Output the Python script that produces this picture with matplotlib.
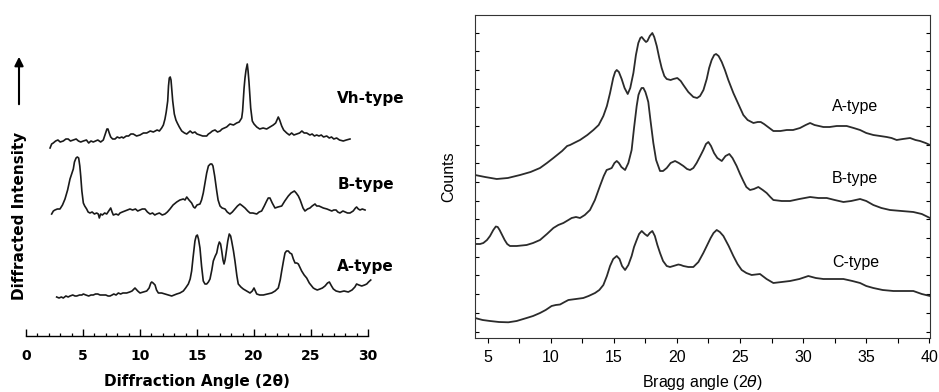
import numpy as np
import matplotlib
matplotlib.use("Agg")
import matplotlib.pyplot as plt

# ---- left panel: older diffractograms (2theta, relative intensity) ----
vh_x = [2.11, 2.25, 2.39, 2.6, 2.8, 3.0, 3.27, 3.5, 3.7, 3.9, 4.15, 4.4, 4.6, 4.8, 5.03, 5.3, 5.5,
        5.7, 5.9, 6.1, 6.3, 6.55, 6.78, 6.9, 6.99, 7.1, 7.19, 7.3, 7.43, 7.6, 7.81, 8.0, 8.2, 8.4,
        8.54, 8.8, 9.0, 9.2, 9.41, 9.7, 10.0, 10.3, 10.59, 10.9, 11.17, 11.5, 11.7, 11.9, 12.05,
        12.19, 12.3, 12.43, 12.5, 12.57, 12.65, 12.72, 12.8, 12.87, 13.01, 13.15, 13.27, 13.45,
        13.66, 13.9, 14.1, 14.4, 14.6, 14.82, 15.0, 15.26, 15.5, 15.85, 16.0, 16.14, 16.35, 16.58,
        16.8, 17.02, 17.2, 17.4, 17.6, 17.89, 18.2, 18.48, 18.7, 18.92, 19.0, 19.06, 19.13, 19.21,
        19.3, 19.41, 19.48, 19.56, 19.65, 19.71, 19.85, 20.0, 20.24, 20.5, 20.8, 21.11, 21.4,
        21.69, 21.9, 22.05, 22.13, 22.25, 22.43, 22.6, 22.87, 23.1, 23.3, 23.5, 23.75, 24.0, 24.2,
        24.4, 24.62, 24.9, 25.1, 25.3, 25.5, 25.7, 25.9, 26.1, 26.38, 26.6, 26.8, 27.0, 27.25,
        27.5, 27.83, 28.1, 28.42]
vh_y = [188, 192, 193, 195, 196, 194, 195, 197, 197, 195, 196, 197, 195, 194, 195, 196, 193,
        195, 194, 195, 196, 194, 196, 200, 203, 207, 207, 203, 199, 197, 197, 199, 198, 199,
        198, 200, 200, 202, 202, 200, 201, 203, 203, 205, 204, 206, 205, 208, 211,
        217, 224, 235, 250, 258, 259, 256, 245, 235, 222, 216, 213, 209,
        205, 203, 202, 205, 203, 204, 202, 201, 200, 200, 202, 203, 205, 206,
        204, 205, 207, 208, 209, 212, 211, 213, 214, 218, 225, 235, 248, 258,
        266, 272, 265, 254, 238, 228, 215, 212, 209, 207, 208, 207, 209,
        211, 213, 217, 219, 216, 210, 206, 203, 201, 203, 201, 202, 203, 205,
        203, 203, 201, 202, 200, 201, 200, 201, 199, 200, 198, 199, 197, 198,
        196, 195, 196, 197]

b_x = [2.25, 2.4, 2.54, 2.75, 2.98, 3.2, 3.42, 3.65, 3.86, 4.0, 4.15, 4.25, 4.39, 4.5, 4.62, 4.72,
       4.8, 4.9, 5.03, 5.15, 5.32, 5.45, 5.61, 5.8, 6.0, 6.2, 6.34, 6.43, 6.55, 6.7, 6.9, 7.08,
       7.25, 7.43, 7.55, 7.66, 7.9, 8.1, 8.25, 8.45, 8.68, 8.9, 9.12, 9.35, 9.6, 9.8, 10.0, 10.2,
       10.44, 10.65, 10.88, 11.1, 11.3, 11.46, 11.7, 11.95, 12.19, 12.4, 12.63, 12.9, 13.22,
       13.5, 13.8, 13.95, 14.1, 14.3, 14.53, 14.7, 14.82, 15.0, 15.26, 15.4, 15.55, 15.7, 15.85,
       16.0, 16.17, 16.3, 16.4, 16.55, 16.73, 16.85, 17.02, 17.2, 17.46, 17.65, 17.89, 18.1,
       18.33, 18.55, 18.77, 19.0, 19.21, 19.45, 19.65, 19.9, 20.24, 20.45, 20.67, 20.9, 21.11,
       21.25, 21.4, 21.6, 21.84, 22.1, 22.43, 22.7, 23.01, 23.25, 23.54, 23.7, 23.89, 24.05,
       24.18, 24.3, 24.47, 24.7, 24.91, 25.1, 25.35, 25.5, 25.7, 25.9, 26.08, 26.4, 26.6, 26.82,
       27.0, 27.2, 27.35, 27.54, 27.8, 28.0, 28.2, 28.42, 28.7, 28.9, 29.0, 29.15, 29.3, 29.5,
       29.74]
b_y = [122, 125, 126, 127, 127, 131, 137, 146, 157, 162, 167, 174, 178, 179, 178, 170,
       160, 145, 133, 130, 127, 124, 123, 124, 122, 123, 122, 118, 122, 121, 123, 122,
       125, 128, 124, 121, 122, 121, 123, 124, 125, 126, 127, 126, 127, 125, 126, 127,
       127, 124, 122, 123, 121, 122, 123, 121, 122, 124, 127, 131, 134,
       136, 137, 136, 139, 136, 133, 129, 128, 131, 132, 136, 143, 153, 163,
       170, 172, 172, 170, 160, 145, 136, 130, 128, 127, 124, 122, 124,
       127, 130, 132, 130, 128, 125, 123, 123, 122, 124, 125, 130, 135,
       138, 138, 133, 128, 129, 130, 135, 140, 143, 145, 143, 140, 136,
       132, 128, 125, 127, 128, 130, 132, 130, 130, 129, 128, 127, 126, 125,
       126, 126, 124, 123, 125, 124, 123, 123, 125, 128, 129, 127, 126, 127,
       126]

a_x = [2.69, 2.9, 3.1, 3.27, 3.5, 3.7, 3.86, 4.1, 4.3, 4.45, 4.7, 4.9, 5.03, 5.25, 5.5, 5.7, 5.9,
       6.1, 6.3, 6.5, 6.78, 7.0, 7.2, 7.37, 7.55, 7.7, 7.9, 8.1, 8.3, 8.5, 8.83, 9.1, 9.3, 9.56,
       9.8, 10.0, 10.3, 10.59, 10.8, 10.95, 11.03, 11.15, 11.32, 11.45, 11.61, 11.9, 12.19, 12.5,
       12.78, 13.0, 13.22, 13.5, 13.8, 14.0, 14.24, 14.4, 14.53, 14.65, 14.82, 14.93, 15.03,
       15.13, 15.26, 15.4, 15.55, 15.7, 15.85, 16.0, 16.14, 16.3, 16.43, 16.6, 16.73, 16.85,
       16.96, 17.07, 17.17, 17.28, 17.37, 17.46, 17.54, 17.7, 17.83, 17.95, 18.04, 18.2, 18.33,
       18.5, 18.62, 18.85, 19.06, 19.35, 19.65, 19.85, 20.0, 20.12, 20.24, 20.5, 20.82, 21.2,
       21.55, 21.85, 22.13, 22.3, 22.43, 22.6, 22.72, 22.85, 23.01, 23.15, 23.31, 23.45, 23.6,
       23.75, 23.89, 24.05, 24.18, 24.4, 24.62, 24.85, 25.06, 25.2, 25.35, 25.55, 25.79, 26.0,
       26.23, 26.45, 26.61, 26.8, 26.96, 27.2, 27.54, 27.9, 28.27, 28.6, 28.85, 29.0, 29.2,
       29.45, 29.7, 29.89, 30.05, 30.24]
a_y = [39, 38, 39, 38, 40, 39, 40, 41, 40, 40, 41, 41, 42, 41, 40, 41, 41,
       42, 42, 41, 41, 41, 40, 40, 41, 42, 41, 43, 42, 43, 43, 44, 45, 48,
       45, 43, 44, 45, 48, 53, 54, 53, 51, 46, 43, 43, 42, 41,
       40, 41, 42, 43, 45, 48, 52, 57, 65, 78, 95, 100, 101,
       97, 88, 70, 55, 52, 52, 54, 57, 66, 75, 80, 83, 90,
       94, 92, 85, 76, 72, 76, 82, 95, 102, 100, 95, 85, 75,
       60, 52, 49, 47, 45, 43, 45, 48, 45, 42, 41, 41, 42,
       43, 45, 48, 56, 65, 76, 83, 85, 85, 83, 82, 77, 73,
       73, 72, 68, 65, 61, 58, 53, 50, 48, 47, 46, 47, 48,
       50, 53, 54, 50, 47, 45, 44, 45, 44, 46, 49, 52, 51,
       50, 51, 52, 54, 56]

left_labels = ["Vh-type", "B-type", "A-type"]

# ---- right panel: Bragg angle vs counts ----
ra_x = [4.0, 4.8, 5.72, 6.6, 7.57, 8.4, 9.15, 9.7, 10.21, 10.9, 11.3, 11.53, 12.0, 12.32, 12.9,
        13.38, 13.8, 14.17, 14.45, 14.7, 14.95, 15.1, 15.23, 15.4, 15.62, 15.85, 16.1, 16.3, 16.55,
        16.75, 16.94, 17.1, 17.21, 17.4, 17.55, 17.66, 17.85, 18.05, 18.2, 18.4, 18.6, 18.79,
        19.0, 19.19, 19.5, 19.72, 20.03, 20.3, 20.51, 20.9, 21.3, 21.6, 21.83, 22.1, 22.36,
        22.55, 22.75, 22.95, 23.1, 23.3, 23.55, 23.8, 24.07, 24.47, 24.9, 25.26, 25.6, 26.06,
        26.4, 26.64, 26.9, 27.11, 27.64, 28.2, 28.7, 29.2, 29.75, 30.2, 30.55, 30.9, 31.6, 32.1,
        32.66, 33.45, 34.0, 34.51, 35.0, 35.56, 36.1, 36.62, 37.0, 37.41, 37.9, 38.47, 38.9,
        39.26, 39.7, 40.05]
ra_y = [163, 161, 159, 160, 163, 166, 170, 175, 180, 187, 192, 193, 196, 198, 203,
        208, 213, 222, 232, 245, 260, 266, 268, 266, 259, 250, 244, 250, 265,
        283, 295, 300, 301, 298, 296, 297, 302, 305, 301, 292, 280, 270,
        262, 259, 258, 259, 260, 257, 253, 246, 241, 240, 242, 248, 259,
        270, 278, 283, 284, 282, 276, 268, 258, 245, 233, 223, 218, 215,
        216, 216, 214, 212, 207, 207, 208, 208, 210, 213, 215, 213, 211, 211,
        212, 212, 210, 208, 205, 203, 202, 201, 200, 198, 199, 200, 198,
        197, 195, 193]

rb_x = [4.0, 4.4, 4.66, 4.95, 5.19, 5.45, 5.65, 5.8, 5.95, 6.11, 6.35, 6.55, 6.77, 7.3, 8.09, 8.6,
        9.15, 9.7, 10.21, 10.6, 11.0, 11.4, 11.66, 12.0, 12.32, 12.7, 13.11, 13.5, 13.9, 14.2,
        14.43, 14.65, 14.83, 15.05, 15.23, 15.4, 15.6, 15.89, 16.15, 16.41, 16.6, 16.81, 16.95,
        17.07, 17.2, 17.34, 17.5, 17.62, 17.73, 17.9, 18.13, 18.35, 18.66, 18.9, 19.19, 19.5,
        19.85, 20.15, 20.51, 20.8, 21.04, 21.3, 21.56, 21.85, 22.09, 22.3, 22.49, 22.7, 22.94,
        23.2, 23.55, 23.85, 24.15, 24.4, 24.73, 25.0, 25.26, 25.5, 25.79, 26.1, 26.45, 26.8,
        27.11, 27.4, 27.64, 28.3, 28.96, 29.7, 30.55, 31.2, 31.87, 32.5, 33.19, 33.8, 34.51,
        35.0, 35.56, 36.2, 36.88, 37.8, 38.73, 39.4, 40.05]
rb_y = [94, 94, 95, 98, 102, 108, 111.5, 111, 108, 104, 98, 94, 92, 92, 93, 95,
        98, 104, 110, 113, 115, 118, 120, 121, 120, 123, 128, 138, 152, 162,
        168, 169, 170, 175, 177, 175, 171, 168, 175, 188, 210, 232, 243,
        247, 250, 250, 246, 241, 236, 218, 195, 178, 167, 167, 170, 175,
        177, 175, 172, 169, 168, 170, 175, 182, 188, 194, 196, 192, 185,
        180, 177, 182, 184, 180, 172, 164, 157, 151, 148, 149, 151, 148,
        145, 141, 138, 137, 137, 139, 141, 140, 140, 138, 136, 137, 139,
        137, 133, 130, 128, 127, 126, 124, 120]

rc_x = [4.0, 4.6, 5.19, 5.9, 6.64, 7.3, 8.09, 8.6, 9.15, 9.6, 10.07, 10.4, 10.74, 11.1, 11.4,
        12.0, 12.58, 13.0, 13.51, 13.85, 14.17, 14.45, 14.7, 14.95, 15.23, 15.45, 15.65, 15.89,
        16.15, 16.41, 16.6, 16.81, 17.0, 17.21, 17.45, 17.66, 17.85, 18.05, 18.25, 18.45, 18.66,
        18.9, 19.19, 19.45, 19.72, 20.11, 20.3, 20.51, 20.9, 21.3, 21.7, 22.09, 22.4, 22.67,
        22.9, 23.15, 23.4, 23.68, 24.1, 24.47, 24.8, 25.13, 25.5, 25.92, 26.25, 26.58, 27.1,
        27.64, 28.3, 28.96, 29.7, 30.41, 31.0, 31.6, 32.4, 33.19, 33.9, 34.51, 35.0, 35.56,
        36.3, 37.15, 38.0, 38.73, 39.4, 40.05]
rc_y = [20, 18, 17, 16, 15.7, 17, 20, 22, 25, 28, 32, 33, 33.5, 36, 38,
        39, 40, 42, 45, 48, 53, 62, 72, 79, 82, 79, 72, 68,
        73, 82, 91, 98, 104, 107, 104, 102, 105, 107, 102, 93, 85,
        77, 72, 71, 72, 73.5, 73, 72, 71, 71, 76, 85, 93, 100,
        105, 108, 106, 102, 92, 82, 74, 68, 65, 63, 63.5, 64, 59,
        55, 56, 57, 59, 62, 60, 59, 59, 59, 57, 55, 52, 50,
        48, 47, 47, 47, 44, 42]

right_labels = ["A-type", "B-type", "C-type"]

fig = plt.figure(figsize=(9.39, 3.92), dpi=100)
ink = "#1a1a1a"

# left panel
axl = fig.add_axes([26 / 939, (392 - 336) / 392, 342 / 939, 290 / 392])
for xs, ys in [(vh_x, vh_y), (b_x, b_y), (a_x, a_y)]:
    axl.plot(xs, ys, color=ink, lw=1.2, clip_on=False)
axl.set_xlim(0, 30)
axl.set_ylim(0, 290)
for s in ["left", "right", "top"]:
    axl.spines[s].set_visible(False)
axl.spines["bottom"].set_linewidth(1.0)
axl.set_yticks([])
axl.set_xticks(np.arange(0, 31, 5))
axl.set_xticks(np.arange(0, 31, 1), minor=True)
axl.tick_params(axis="x", which="major", direction="in", length=5, width=1.0, pad=9,
                labelsize=10)
axl.tick_params(axis="x", which="minor", direction="in", length=2.5, width=0.9)
for t in axl.get_xticklabels():
    t.set_fontweight("bold")
axl.set_xlabel("Diffraction Angle (2θ)", fontsize=11, fontweight="bold", labelpad=8)
for lab, yy in zip(left_labels, [238, 151, 70]):
    axl.text(27.3, yy, lab, fontsize=11, fontweight="bold", va="center", ha="left")

fig.text(20 / 939, (392 - 216) / 392, "Diffracted Intensity", rotation=90, fontsize=11,
         fontweight="bold", ha="center", va="center")
fig.add_artist(matplotlib.patches.FancyArrowPatch(
    (19 / 939, (392 - 107) / 392), (19 / 939, (392 - 54) / 392),
    transform=fig.transFigure, arrowstyle="-|>", mutation_scale=13, color="black", lw=1.5))

# right panel
axr = fig.add_axes([475 / 939, (392 - 338) / 392, 455 / 939, 323 / 392])
for xs, ys in [(ra_x, ra_y), (rb_x, rb_y), (rc_x, rc_y)]:
    axr.plot(xs, ys, color="#2b2b2b", lw=1.3)
axr.set_xlim(4, 40.05)
axr.set_ylim(0, 323)
axr.set_xticks(np.arange(5, 41, 5))
axr.set_xticks(np.arange(7.5, 40, 5), minor=True)
axr.set_yticks(np.arange(6.5, 323, 18.67))
axr.set_yticklabels([])
axr.tick_params(axis="x", which="both", direction="out", length=3.5, width=0.8, pad=5,
                labelsize=11.5)
axr.tick_params(axis="y", direction="in", length=3, width=0.8, left=True, right=True)
for s in axr.spines.values():
    s.set_linewidth(0.8)
    s.set_color("#333333")
axr.set_xlabel("Bragg angle (2$\\theta$)", fontsize=11.5, labelpad=6)
axr.set_ylabel("Counts", fontsize=11.5, labelpad=10)
for lab, yy in zip(right_labels, [232, 159, 75]):
    axr.text(32.3, yy, lab, fontsize=11.5, va="center", ha="left")

for t in axr.get_xticklabels() + [axr.xaxis.label, axr.yaxis.label] + axr.texts:
    t.set_fontfamily("Liberation Sans")

fig.savefig("out.png", dpi=100)
